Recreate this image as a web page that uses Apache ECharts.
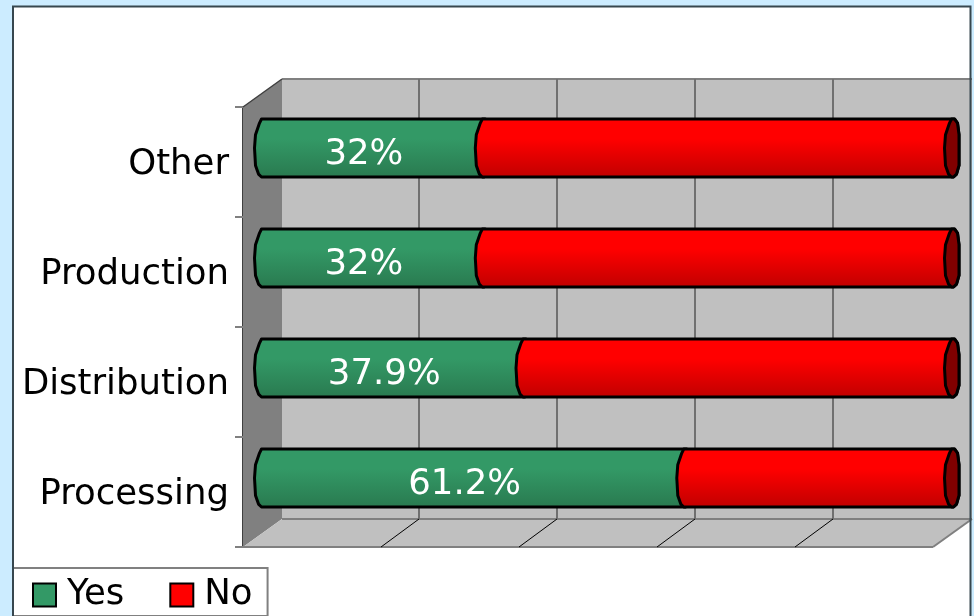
<!DOCTYPE html>
<html>
<head>
<meta charset="utf-8">
<style>
    html, body { margin: 0; padding: 0; background: #CCECFF; }
    #main { width: 974px; height: 616px; }
</style>
<script src="https://cdn.jsdelivr.net/npm/echarts@6/dist/echarts.min.js"></script>
</head>
<body>
<div id="main"></div>
<script>
var categories = ['Processing', 'Distribution', 'Production', 'Other'];
var yesValues = [61.2, 37.9, 32, 32];
var noValues = [38.8, 62.1, 68, 68];
var xTicks = [0, 20, 40, 60, 80, 100];

// fake 3d: how far the back wall sits from the front plane
var DEPTH_X = 39;
var DEPTH_Y = -28;
var FONT = '"DejaVu Sans"';
var FONT_SIZE = 35.5;

// outline of the bar end, [x offset, share of bar height]
var endLeft = [[-1, 0], [-3, 0.07], [-7, 0.27], [-8, 0.5], [-7, 0.8], [-4, 0.95], [-1, 1]];
var endRight = [[2, 0], [5, 0.07], [6.5, 0.27], [6.5, 0.5], [6.5, 0.8], [4, 0.95], [1, 1]];

function gradient(top, mid, bottom) {
    return new echarts.graphic.LinearGradient(0, 0, 0, 1, [
        { offset: 0, color: top },
        { offset: 0.35, color: mid },
        { offset: 1, color: bottom }
    ]);
}

function endPoints(cx, top, h, profile, reverse) {
    var pts = profile.map(function (p) { return [cx + p[0], top + p[1] * h]; });
    return reverse ? pts.reverse() : pts;
}

function renderWalls(params, api) {
    var g = params.coordSys;
    var l = g.x, t = g.y, r = g.x + g.width, b = g.y + g.height;
    var dx = DEPTH_X, dy = DEPTH_Y;
    var edge = { stroke: '#808080', lineWidth: 2, fill: null };
    function poly(points, fill) {
        return { type: 'polygon', shape: { points: points }, style: { fill: fill } };
    }
    function line(x1, y1, x2, y2, style) {
        return { type: 'line', shape: { x1: x1, y1: y1, x2: x2, y2: y2 }, style: style };
    }
    return {
        type: 'group',
        children: [
            poly([[l + dx, t + dy], [r + dx, t + dy], [r + dx, b + dy], [l + dx, b + dy]], '#C0C0C0'),
            poly([[l, t], [l + dx, t + dy], [l + dx, b + dy], [l, b]], '#808080'),
            poly([[l, b], [l + dx, b + dy], [r + dx, b + dy], [r, b]], '#C0C0C0'),
            line(l + dx, t + dy, r + dx, t + dy, edge),
            line(l, t, l + dx, t + dy, { stroke: '#404040', lineWidth: 1.5 }),
            line(l + dx, b + dy, r + dx, b + dy, edge),
            line(l, b, r, b, edge),
            line(r, b, r + dx, b + dy, edge)
        ]
    };
}

function renderGridLine(params, api) {
    var p = api.coord([api.value(0), 0]);
    var g = params.coordSys;
    var x = p[0];
    if (x <= g.x + 1 || x >= g.x + g.width - 1) return null;
    var back = x + DEPTH_X - 1;
    return {
        type: 'group',
        children: [
            { type: 'line', shape: { x1: back, y1: g.y + DEPTH_Y, x2: back, y2: g.y + g.height + DEPTH_Y },
              style: { stroke: '#707070', lineWidth: 2 } },
            { type: 'line', shape: { x1: back, y1: g.y + g.height + DEPTH_Y, x2: x, y2: g.y + g.height },
              style: { stroke: '#000', lineWidth: 1 } }
        ]
    };
}

function renderSegment(fill, isLast) {
    return function (params, api) {
        var start = api.coord([api.value(0), api.value(2)]);
        var end = api.coord([api.value(1), api.value(2)]);
        var h = 58;
        var top = start[1] + DEPTH_Y / 2 - h / 2;
        var x0 = start[0] + DEPTH_X / 2;
        var x1 = end[0] + DEPTH_X / 2;
        var outline = { stroke: '#000', lineWidth: 3, lineJoin: 'round' };
        var children = [{
            type: 'polygon',
            shape: { points: endPoints(x0, top, h, endLeft, false).concat(endPoints(x1, top, h, endRight, true)) },
            style: Object.assign({ fill: fill }, outline)
        }];
        if (isLast) {
            children.push({
                type: 'polygon',
                shape: { points: endPoints(x1, top, h, endLeft, false).concat(endPoints(x1, top, h, endRight, true)) },
                style: Object.assign({ fill: '#800000' }, outline)
            });
        } else {
            children.push({
                type: 'text',
                z2: 10,
                style: {
                    text: api.value(1) - api.value(0) + '%',
                    x: (x0 + x1) / 2 - 9,
                    y: top + h / 2 + 7,
                    fill: '#fff',
                    font: FONT_SIZE + 'px ' + FONT,
                    align: 'center',
                    verticalAlign: 'middle'
                }
            });
        }
        return { type: 'group', children: children };
    };
}

var yesData = categories.map(function (c, i) { return [0, yesValues[i], i]; });
var noData = categories.map(function (c, i) { return [yesValues[i], yesValues[i] + noValues[i], i]; });

var myChart = echarts.init(document.getElementById('main'));
var option = {
    animation: false,
    backgroundColor: '#CCECFF',
    textStyle: { fontFamily: FONT },
    graphic: [
        { type: 'rect', z: -10, shape: { x: 13, y: 6, width: 958, height: 640 }, style: { fill: '#fff' } },
        { type: 'rect', z: 100, silent: true, shape: { x: 13, y: 6.5, width: 957.5, height: 640 },
          style: { fill: null, stroke: '#37474f', lineWidth: 2 } }
    ],
    grid: { left: 243, top: 107, width: 690, height: 440 },
    legend: {
        left: 13,
        top: 568,
        orient: 'horizontal',
        padding: [9, 15, 3, 19],
        itemGap: 45,
        itemWidth: 23,
        itemHeight: 23,
        selectedMode: false,
        backgroundColor: '#fff',
        borderColor: '#808080',
        borderWidth: 2,
        textStyle: { fontSize: FONT_SIZE, color: '#000', fontFamily: FONT, padding: [0, 0, 6, 6] },
        data: [
            { name: 'Yes', icon: 'rect', itemStyle: { color: '#339966', borderColor: '#000', borderWidth: 2 } },
            { name: 'No', icon: 'rect', itemStyle: { color: '#ff0000', borderColor: '#000', borderWidth: 2 } }
        ]
    },
    xAxis: { type: 'value', min: 0, max: 100, interval: 20, show: false },
    yAxis: {
        type: 'category',
        data: categories,
        axisLine: { show: true, lineStyle: { color: '#404040', width: 2 } },
        axisTick: { show: true, length: 8, lineStyle: { color: '#808080', width: 2 } },
        // labels sit a little under the band centre
        axisLabel: { margin: 14, fontSize: FONT_SIZE, color: '#000', fontFamily: FONT, verticalAlign: 'top', lineHeight: 6 }
    },
    series: [
        { name: 'walls', type: 'custom', silent: true, z: 1, renderItem: renderWalls, data: [[0, 0]], clip: false },
        { name: 'grid', type: 'custom', silent: true, z: 1, renderItem: renderGridLine, data: xTicks.map(function (v) { return [v, 0]; }), clip: false },
        { name: 'Yes', type: 'custom', z: 3, clip: false, renderItem: renderSegment(gradient('#339966', '#339966', '#29794f'), false),
          itemStyle: { color: '#339966' }, encode: { x: [0, 1], y: 2 }, data: yesData },
        { name: 'No', type: 'custom', z: 4, clip: false, renderItem: renderSegment(gradient('#ff0000', '#ff0000', '#bf0000'), true),
          itemStyle: { color: '#ff0000' }, encode: { x: [0, 1], y: 2 }, data: noData }
    ]
};
myChart.setOption(option);
</script>
</body>
</html>
